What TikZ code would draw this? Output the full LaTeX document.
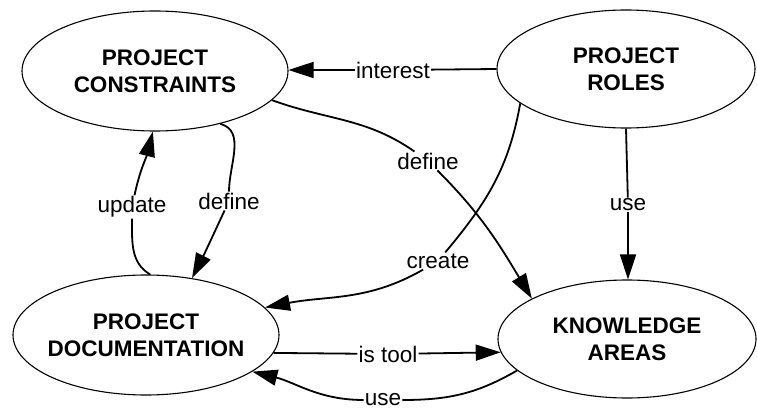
\documentclass[tikz,border=0pt]{standalone}
\usepackage{fontspec}
\setmainfont{Liberation Sans}
\usetikzlibrary{arrows.meta,shapes.geometric}

\begin{document}
\begin{tikzpicture}[x=1pt,y=1pt,
  concept/.style={ellipse, draw, line width=1.1pt, inner sep=-40pt, align=center,
    font=\fontsize{22.5}{27}\selectfont\bfseries},
  wire/.style={line width=1.8pt},
  link/.style={wire, -{Triangle[length=25pt,width=16pt]}},
  lbl/.style={fill=white, inner sep=1pt, font=\fontsize{22.5}{27}\selectfont}]
\useasboundingbox (0,0) rectangle (757,410);

% concepts
\node[concept, minimum width=266pt, minimum height=120pt] (C) at (155,339) {PROJECT\\CONSTRAINTS};
\node[concept, minimum width=258pt, minimum height=118pt] (R) at (626,341) {PROJECT\\ROLES};
\node[concept, minimum width=266pt, minimum height=120pt] (D) at (146,75) {PROJECT\\DOCUMENTATION};
\node[concept, minimum width=258pt, minimum height=118pt] (K) at (627,71) {KNOWLEDGE\\AREAS};

% link labels
\node[lbl] (interest) at (393,340) {interest};
\node[lbl] (defK) at (428,249) {define};
\node[lbl] (useRK) at (628,205) {use};
\node[lbl] (create) at (438,149) {create};
\node[lbl] (defD) at (229,209) {define};
\node[lbl] (update) at (132,203) {update};
\node[lbl] (istool) at (388,56) {is tool};
\node[lbl] (useKD) at (383,10) {use};

% links
\draw[wire] (R.west) -- (interest);
\draw[link] (interest) -- (C.east |- interest);

\draw[wire] (C.-14) to[out=-20,in=145] (defK);
\draw[link] (defK) to[out=-45,in=121] (K.157);

\draw[wire] (R.south) -- (useRK);
\draw[link] (useRK) -- (useRK |- K.north);

\draw[wire] (R.198) to[out=-100,in=50] (create);
\draw[link] (create) to[out=-150,in=11] (D.13);

\draw[wire] (C.-39) to[out=-15,in=90] (defD);
\draw[link] (defD) to[out=-115,in=63] (D.51);

\draw[wire] (D.86) to[out=150,in=-90] (update);
\draw[link] (update) to[out=78,in=-104] (C.-92);

\draw[wire] (D.-8.6) -- (istool);
\draw[link] (istool) -- (K.186.8);

\draw[wire] (K.196) to[out=-150,in=0] (useKD);
\draw[link] (useKD) to[out=180,in=-14] (D.-19);
\end{tikzpicture}
\end{document}
